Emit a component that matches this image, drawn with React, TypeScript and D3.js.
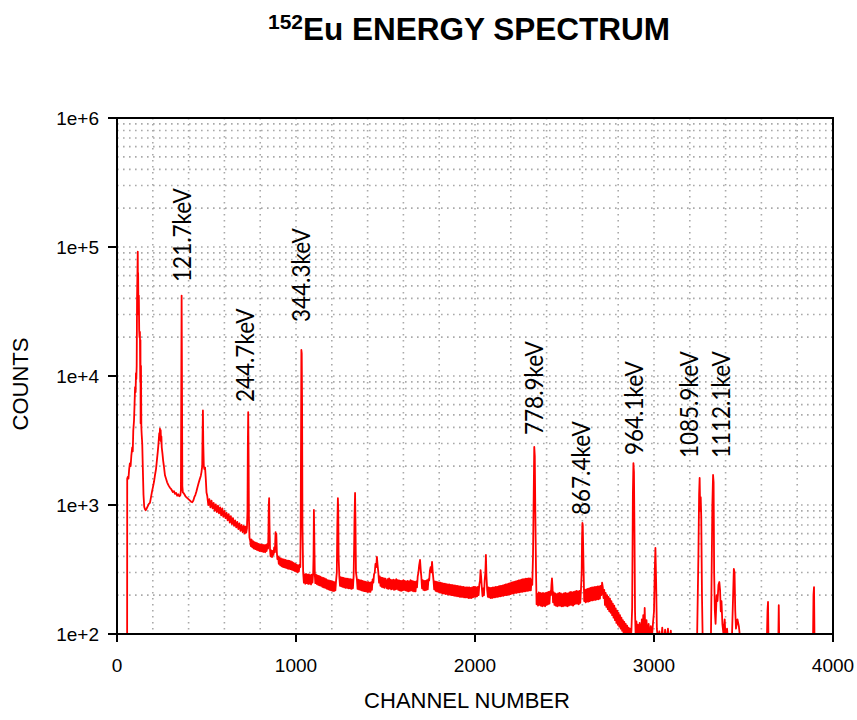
import React from "react";
import * as d3 from "d3";

const W = 857;
const H = 720;
const PLOT = { left: 117, right: 833, top: 118, bottom: 634 };

const xTickValues = [0, 1000, 2000, 3000, 4000];
const yTickValues = [1e2, 1e3, 1e4, 1e5, 1e6];
const yTickLabels = ["1e+2", "1e+3", "1e+4", "1e+5", "1e+6"];
const xGridStep = 200;

// spectrum: [channel, counts]
const lowEnergy: [number, number][] = [
  [0, 1], [56, 1], [57, 1600], [60, 1650], [64, 1600], [68, 1900], [72, 2100], [76, 2000],
  [80, 2400], [85, 2800], [88, 2600], [91, 3800], [95, 4500], [98, 6000], [101, 8200],
  [104, 7500], [106, 10500], [108, 9500], [110, 12000], [112, 40000], [114, 60000],
  [116, 92000], [117, 45000], [118, 63000], [120, 30000], [122, 42000], [124, 22600],
  [126, 20000], [128, 22000], [130, 9000], [131, 19000], [132, 4300], [134, 12000],
  [136, 4000], [138, 3500], [141, 3000], [144, 2000], [148, 1200], [152, 970], [156, 930],
  [160, 910], [166, 940], [172, 980], [178, 1020], [184, 1040], [190, 1150], [196, 1280],
  [202, 1400], [207, 1520], [212, 1700], [218, 1900], [224, 2300], [228, 2600], [231, 2900],
  [234, 3300], [236, 3600], [238, 3200], [240, 3900], [242, 3500], [244, 3800], [246, 3100],
  [248, 3400], [250, 2800], [254, 2500], [258, 2200], [262, 2000], [268, 1700], [274, 1600],
  [280, 1500], [288, 1420], [296, 1360], [304, 1320], [312, 1260], [318, 1280], [324, 1220],
  [330, 1240], [336, 1180], [342, 1210], [348, 1170], [354, 1190], [357, 1300], [359, 8000],
  [361, 42000], [363, 9000], [365, 1400], [368, 1250], [372, 1240], [378, 1200], [384, 1160],
  [390, 1140], [396, 1120], [402, 1100], [408, 1080], [414, 1060], [420, 1050], [426, 1080],
  [432, 1150], [438, 1200], [444, 1280], [450, 1380], [456, 1480], [462, 1580], [468, 1680],
  [472, 1800], [476, 2000], [478, 3500], [480, 5400], [482, 3000], [485, 2000], [488, 1900],
  [492, 1950], [496, 1600], [500, 1250], [504, 1180], [510, 1000], [516, 1110], [522, 960],
  [528, 1080], [534, 940], [540, 1040], [546, 900], [552, 1010], [558, 880], [564, 990],
  [570, 860], [576, 960], [582, 830], [588, 940], [594, 810], [600, 900], [606, 790],
  [612, 870], [618, 760], [624, 850], [630, 730], [636, 820], [642, 710], [648, 790],
  [654, 690], [660, 760], [666, 670], [672, 740], [678, 650], [684, 720], [690, 630],
  [696, 700], [702, 615], [708, 690], [714, 600], [718, 680], [722, 610], [726, 660],
  [729, 900], [731, 3000], [733, 5250], [735, 2500], [737, 800], [740, 560], [744, 530],
  [748, 480], [752, 540], [756, 470], [760, 525], [764, 460], [768, 515], [772, 455],
  [776, 510], [780, 450], [784, 505], [788, 445], [792, 500], [796, 440], [800, 495],
  [804, 438], [808, 492], [812, 435], [816, 490], [820, 432], [824, 488], [828, 430],
  [832, 490], [836, 440], [840, 500], [844, 460], [846, 600], [848, 1000], [850, 1130],
  [852, 700], [855, 450], [858, 400], [862, 445], [866, 395], [870, 440], [874, 410],
  [878, 470], [882, 430], [884, 520], [886, 617], [888, 540], [890, 600], [893, 430],
  [896, 380], [900, 400], [904, 350], [908, 390], [912, 340], [916, 385], [920, 335],
  [924, 380], [928, 330], [932, 378], [936, 328], [940, 375], [944, 325], [948, 372],
  [952, 322], [956, 370], [960, 320], [964, 368], [968, 318], [972, 365], [976, 315],
  [980, 360], [984, 312], [988, 355], [992, 308], [996, 350], [1000, 305], [1004, 345],
  [1008, 300], [1012, 340], [1016, 305], [1020, 345], [1024, 330], [1026, 600], [1028, 3000],
  [1030, 15900], [1032, 15000], [1034, 6000], [1036, 700], [1040, 300],
];

const midEnergy: [number, number][] = [
  [1044, 250], [1048, 290], [1052, 245], [1056, 292], [1060, 248], [1064, 288], [1068, 244],
  [1072, 290], [1076, 246], [1080, 286], [1084, 242], [1088, 288], [1092, 250], [1096, 300],
  [1098, 400], [1100, 915], [1102, 600], [1105, 290], [1108, 248], [1112, 288], [1116, 244],
  [1120, 284], [1124, 240], [1128, 282], [1132, 238], [1136, 278], [1140, 236], [1144, 275],
  [1148, 232], [1152, 272], [1156, 230], [1160, 270], [1164, 228], [1168, 266], [1172, 225],
  [1176, 262], [1180, 222], [1184, 260], [1188, 220], [1192, 258], [1196, 218], [1200, 256],
  [1204, 216], [1208, 254], [1212, 215], [1216, 252], [1220, 218], [1224, 260], [1228, 300],
  [1231, 700], [1234, 1130], [1236, 900], [1238, 400], [1242, 280], [1246, 236], [1250, 276],
  [1254, 234], [1258, 274], [1262, 232], [1266, 272], [1270, 230], [1274, 270], [1278, 228],
  [1282, 268], [1286, 228], [1290, 268], [1294, 226], [1298, 266], [1302, 226], [1306, 266],
  [1310, 224], [1314, 264], [1318, 226], [1322, 280], [1325, 500], [1327, 800], [1330, 1240],
  [1332, 800], [1335, 300], [1340, 268], [1344, 224], [1348, 264], [1352, 222], [1356, 262],
  [1360, 220], [1364, 260], [1368, 218], [1372, 258], [1376, 216], [1380, 256], [1384, 215],
  [1388, 254], [1392, 214], [1396, 252], [1400, 212], [1404, 252], [1408, 212], [1412, 250],
  [1416, 212], [1420, 252], [1424, 220], [1428, 265], [1432, 250], [1436, 290], [1440, 300],
  [1444, 350], [1448, 330], [1452, 396], [1456, 340], [1460, 300], [1464, 250], [1468, 280],
  [1472, 236], [1476, 274], [1480, 232], [1484, 272], [1488, 230], [1492, 270], [1496, 228],
  [1500, 268], [1508, 226], [1512, 266], [1516, 224], [1520, 270], [1524, 226], [1528, 264],
  [1532, 222], [1536, 262], [1540, 224], [1544, 264], [1548, 220], [1552, 262], [1556, 222],
  [1560, 266], [1564, 224], [1568, 262], [1572, 220], [1576, 260], [1580, 218], [1584, 258],
  [1588, 216], [1592, 258], [1596, 218], [1600, 262], [1604, 220], [1608, 258], [1612, 218],
  [1616, 256], [1620, 216], [1624, 258], [1628, 214], [1632, 256], [1636, 216], [1640, 262],
  [1644, 218], [1648, 258], [1652, 216], [1656, 256], [1660, 214], [1664, 254], [1668, 214],
  [1672, 256], [1676, 230], [1680, 280], [1684, 300], [1688, 340], [1693, 375], [1697, 310],
  [1700, 280], [1704, 226], [1708, 262], [1712, 220], [1716, 258], [1720, 218], [1724, 258],
  [1728, 220], [1732, 262], [1736, 222], [1740, 266], [1744, 260], [1748, 310], [1752, 330],
  [1756, 300], [1760, 362], [1764, 300], [1768, 262], [1772, 222], [1776, 256], [1780, 216],
  [1784, 254], [1788, 214], [1792, 252], [1796, 212], [1800, 250], [1804, 210], [1808, 250],
  [1812, 208], [1816, 248], [1820, 206], [1824, 246], [1828, 206], [1832, 246], [1836, 204],
  [1840, 244], [1844, 204], [1848, 242], [1852, 202], [1856, 242], [1860, 202], [1864, 240],
  [1868, 200], [1872, 240], [1876, 200], [1880, 238], [1884, 198], [1888, 238], [1892, 198],
  [1896, 236], [1900, 196], [1904, 236], [1908, 196], [1912, 234], [1916, 194], [1920, 234],
  [1924, 194], [1928, 232], [1932, 194], [1936, 232], [1940, 192], [1944, 230], [1948, 192],
  [1952, 230], [1956, 192], [1960, 230], [1964, 190], [1968, 230], [1972, 190], [1976, 228],
  [1980, 190], [1984, 230], [1988, 192], [1992, 232], [1996, 194], [2000, 232], [2004, 194],
  [2008, 230], [2012, 196], [2016, 232], [2020, 200], [2024, 240], [2028, 260], [2031, 313],
  [2034, 280], [2038, 230], [2042, 196], [2046, 226], [2050, 200], [2054, 260], [2058, 300],
  [2061, 410], [2064, 280], [2068, 220], [2072, 194], [2076, 230], [2080, 192], [2084, 228],
  [2088, 190], [2092, 228], [2096, 190], [2100, 230], [2104, 192], [2108, 230], [2112, 192],
  [2116, 232], [2120, 194], [2124, 232], [2128, 194], [2132, 234], [2136, 196], [2140, 236],
  [2144, 196], [2148, 236], [2152, 198], [2156, 238], [2160, 198], [2164, 240], [2168, 200],
  [2172, 242], [2176, 200], [2180, 244], [2184, 202], [2188, 246], [2192, 202], [2196, 248],
  [2200, 204], [2204, 250], [2208, 206], [2212, 252], [2216, 206], [2220, 254], [2224, 208],
  [2228, 256], [2232, 208], [2236, 258], [2240, 210], [2244, 260], [2248, 210], [2252, 262],
  [2256, 212], [2260, 264], [2264, 212], [2268, 266], [2272, 214], [2276, 266], [2280, 214],
  [2284, 268], [2288, 216], [2292, 268], [2296, 216], [2300, 270], [2304, 218], [2308, 270],
  [2312, 218], [2316, 265], [2320, 240], [2324, 400], [2328, 1200], [2331, 2820], [2334, 2400],
  [2337, 900], [2341, 300], [2344, 170], [2348, 205], [2352, 166], [2356, 210], [2360, 168],
  [2364, 208], [2368, 166], [2372, 206], [2376, 164], [2380, 208], [2384, 166], [2388, 206],
  [2392, 164], [2396, 208], [2400, 168], [2404, 210], [2408, 170], [2412, 212], [2416, 172],
  [2420, 214], [2424, 200], [2427, 240], [2430, 270], [2433, 230], [2436, 176], [2440, 210],
  [2444, 168], [2448, 206], [2452, 166], [2456, 204], [2460, 164], [2464, 206], [2468, 166],
  [2472, 208], [2476, 166], [2480, 206], [2484, 164], [2488, 204], [2492, 164], [2496, 206],
  [2500, 166], [2504, 208], [2508, 166], [2512, 206], [2516, 164], [2520, 206], [2524, 166],
  [2528, 210], [2532, 168], [2536, 212], [2540, 168], [2544, 210], [2548, 166], [2552, 212],
  [2556, 170], [2560, 214], [2564, 172], [2568, 216], [2572, 172], [2576, 214], [2580, 170],
  [2584, 216], [2588, 174], [2592, 220], [2596, 300], [2598, 550], [2600, 725], [2602, 700],
  [2604, 500], [2607, 300], [2610, 180], [2614, 220], [2618, 176], [2622, 222], [2626, 178],
  [2630, 224], [2634, 178], [2638, 226], [2642, 180], [2646, 228], [2650, 182], [2654, 230],
  [2658, 182], [2662, 230], [2666, 184], [2670, 232], [2674, 184], [2678, 232], [2682, 186],
  [2686, 234], [2690, 186], [2694, 234], [2698, 188], [2702, 236], [2706, 200], [2710, 250],
  [2714, 230], [2718, 190], [2722, 220], [2726, 168], [2730, 208], [2734, 162], [2738, 200],
  [2742, 156], [2746, 194], [2750, 150], [2754, 188], [2758, 146], [2762, 180], [2766, 140],
  [2770, 172], [2774, 134], [2778, 166], [2782, 128], [2786, 158], [2790, 122], [2794, 152],
  [2798, 118], [2802, 146], [2806, 114], [2810, 140], [2814, 110], [2818, 134], [2822, 106],
  [2826, 128], [2830, 102], [2834, 124], [2838, 98], [2842, 120], [2846, 95], [2850, 116],
  [2854, 92], [2858, 112], [2862, 90], [2866, 110], [2870, 88], [2874, 108], [2878, 160],
  [2882, 1200], [2885, 2110], [2888, 1800], [2891, 600], [2894, 150],
];

const highEnergy: [number, number][] = [
  [2898, 90], [2902, 125], [2906, 85], [2910, 118], [2914, 80], [2920, 122], [2926, 85],
  [2932, 130], [2936, 88], [2940, 140], [2944, 92], [2948, 159], [2952, 95], [2958, 128],
  [2964, 90], [2970, 120], [2976, 88], [2982, 115], [2988, 92], [2994, 120], [3000, 150],
  [3004, 300], [3008, 465], [3012, 250], [3016, 110], [3022, 90], [3030, 105], [3038, 80],
  [3046, 112], [3054, 80], [3062, 108], [3070, 85], [3078, 110], [3086, 80], [3094, 106],
  [3100, 75], [3110, 80], [3240, 80], [3248, 400], [3252, 1200], [3255, 1620], [3258, 900],
  [3261, 1150], [3264, 800], [3268, 200], [3272, 90], [3290, 80], [3318, 90], [3322, 300],
  [3326, 1000], [3330, 1710], [3333, 1500], [3336, 300], [3340, 150], [3344, 120], [3350, 200],
  [3355, 180], [3360, 240], [3365, 253], [3369, 220], [3373, 150], [3377, 180], [3382, 120],
  [3388, 100], [3395, 130], [3400, 90], [3408, 110], [3415, 85], [3436, 100], [3442, 200],
  [3446, 319], [3450, 300], [3454, 150], [3458, 110], [3466, 130], [3474, 115], [3482, 90],
  [3490, 80], [3630, 80], [3634, 150], [3637, 177], [3640, 80], [3694, 80], [3697, 167],
  [3700, 80], [3888, 80], [3891, 200], [3894, 231], [3897, 80], [4000, 80],
];

const peakLabels = ["121.7keV", "244.7keV", "344.3keV", "778.9keV", "867.4keV", "964.1keV", "1085.9keV", "1112.1keV"];
const peakLabelChannels = [361, 715, 1028, 2330, 2592, 2888, 3196, 3374];
const peakLabelCounts = [53600, 6280, 26200, 3490, 836, 2440, 2310, 2310];

const RED = "#ff0000";
const GRID = "#a9a9a9";

export default function App() {
  const x = d3.scaleLinear().domain([0, 4000]).range([PLOT.left, PLOT.right]);
  const y = d3.scaleLog().domain([1e2, 1e6]).range([PLOT.bottom, PLOT.top]);

  const spectrum = [...lowEnergy, ...midEnergy, ...highEnergy];
  const line = d3
    .line<[number, number]>()
    .x((d) => x(d[0]))
    .y((d) => y(Math.max(d[1], 1)));

  const xGrid = d3.range(xGridStep, 4000, xGridStep);
  const yGrid: number[] = [];
  [1e2, 1e3, 1e4, 1e5].forEach((dec) => {
    for (let k = 1; k <= 9; k++) {
      const v = dec * k;
      if (v > 1e2 && v < 1e6) yGrid.push(v);
    }
  });

  const font = "'Liberation Sans', Arial, sans-serif";

  return (
    <svg width={W} height={H} style={{ position: "absolute", left: 0, top: 0, background: "#fff" }}>
      <defs>
        <clipPath id="plotClip">
          <rect x={PLOT.left} y={PLOT.top} width={PLOT.right - PLOT.left} height={PLOT.bottom - PLOT.top} />
        </clipPath>
      </defs>
      <rect x={0} y={0} width={W} height={H} fill="#fff" />

      {/* title */}
      <text x={268} y={40} fontFamily={font} fontWeight="bold" fill="#000">
        <tspan fontSize={21} dy={-11}>152</tspan>
        <tspan fontSize={31.5} dy={11}>Eu ENERGY SPECTRUM</tspan>
      </text>

      {/* grid */}
      <g stroke={GRID} strokeWidth={1.6} strokeDasharray="1.6 4.4">
        {xGrid.map((c) => (
          <line key={"gx" + c} x1={x(c)} x2={x(c)} y1={PLOT.top} y2={PLOT.bottom} />
        ))}
        {yGrid.map((v) => (
          <line key={"gy" + v} x1={PLOT.left} x2={PLOT.right} y1={y(v)} y2={y(v)} />
        ))}
      </g>

      {/* spectrum */}
      <g clipPath="url(#plotClip)">
        <path d={line(spectrum) || ""} fill="none" stroke={RED} strokeWidth={1.8} strokeLinejoin="round" />
      </g>

      {/* peak labels */}
      {peakLabels.map((lbl, i) => {
        const px = x(peakLabelChannels[i]) + 9;
        const py = y(peakLabelCounts[i]);
        return (
          <text
            key={lbl}
            transform={`translate(${px},${py}) rotate(-90) scale(0.9,1)`}
            fontFamily="Lato, 'Open Sans', sans-serif"
            fontSize={25}
            fill="#000"
          >
            {lbl}
          </text>
        );
      })}

      {/* frame */}
      <rect
        x={PLOT.left}
        y={PLOT.top}
        width={PLOT.right - PLOT.left}
        height={PLOT.bottom - PLOT.top}
        fill="none"
        stroke="#000"
        strokeWidth={2}
      />

      {/* y ticks */}
      {yTickValues.map((v, i) => (
        <g key={"yt" + v}>
          <line x1={PLOT.left - 9} x2={PLOT.left} y1={y(v)} y2={y(v)} stroke="#000" strokeWidth={2} />
          <text x={PLOT.left - 18} y={y(v)} dy="0.35em" textAnchor="end" fontFamily={font} fontSize={19} fill="#000">
            {yTickLabels[i]}
          </text>
        </g>
      ))}

      {/* x ticks */}
      {xTickValues.map((v) => (
        <g key={"xt" + v}>
          <line x1={x(v)} x2={x(v)} y1={PLOT.bottom} y2={PLOT.bottom + 8} stroke="#000" strokeWidth={2} />
          <text x={x(v)} y={PLOT.bottom + 38} textAnchor="middle" fontFamily={font} fontSize={19} fill="#000">
            {v}
          </text>
        </g>
      ))}

      {/* axis titles */}
      <text x={467} y={708} textAnchor="middle" fontFamily={font} fontSize={22} fill="#000">
        CHANNEL NUMBER
      </text>
      <text
        transform={`translate(28,384) rotate(-90)`}
        textAnchor="middle"
        fontFamily={font}
        fontSize={22}
        fill="#000"
      >
        COUNTS
      </text>
    </svg>
  );
}
